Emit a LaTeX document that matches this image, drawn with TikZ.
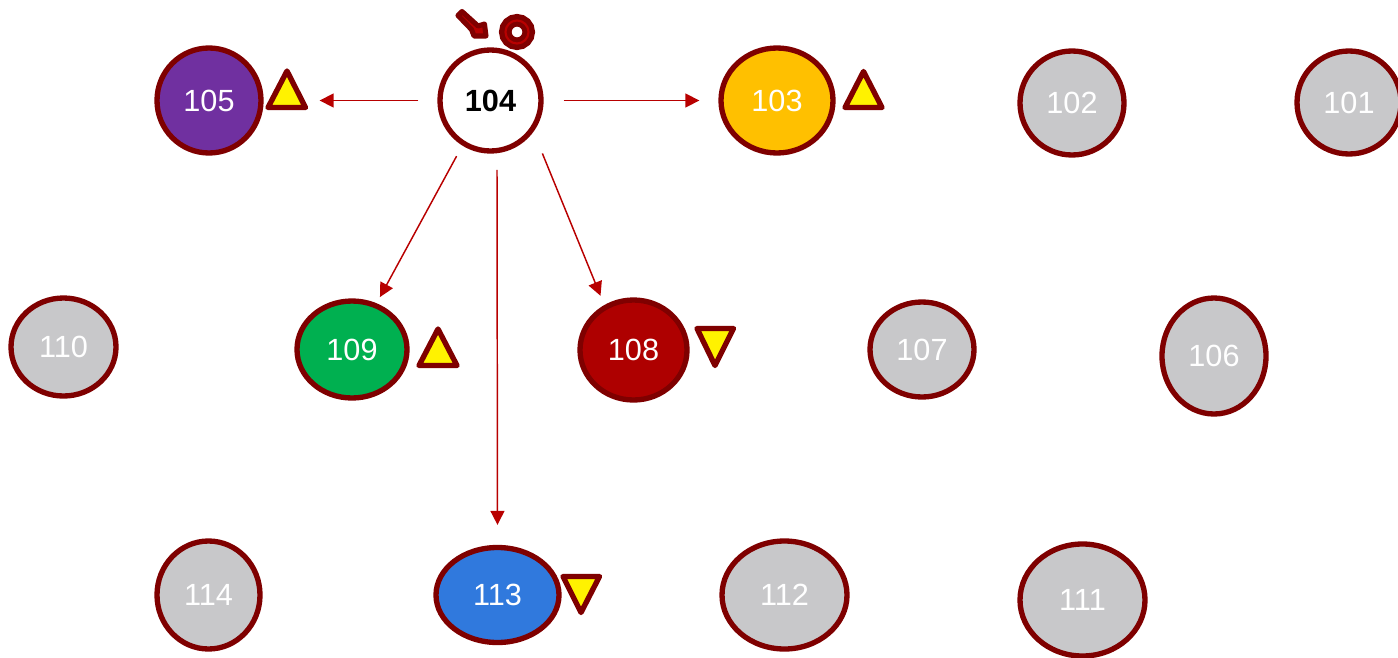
\documentclass[tikz,border=0pt]{standalone}
\usepackage{fontspec}
\setmainfont{Liberation Sans}
\usetikzlibrary{shapes.geometric,arrows.meta}
\definecolor{dk}{HTML}{7F0000}
\definecolor{arr}{HTML}{B80000}
\definecolor{gry}{HTML}{C8C8CA}
\definecolor{purp}{HTML}{7030A0}
\definecolor{amber}{HTML}{FFC000}
\definecolor{grn}{HTML}{00B050}
\definecolor{rd}{HTML}{AE0000}
\definecolor{blu}{HTML}{3079DD}
\newcommand{\lbl}[1]{\raisebox{-1.4pt}{#1}}
\tikzset{
  oval/.style n args={3}{ellipse,draw=dk,line width=4pt,fill=#3,text=white,inner sep=0pt,
    minimum width=(#1-4)*0.75pt,minimum height=(#2-4)*0.75pt,font=\fontsize{23pt}{26pt}\selectfont},
  link/.style={draw=arr,line width=1.1pt,-{Triangle[length=10.5pt,width=10.5pt]}},
  mark tri/.style={draw=dk,fill=yellow,line width=4pt,line join=round},
  icon/.style={draw=dk,fill=arr,line width=3.8pt,line join=round}
}
\begin{document}
\begin{tikzpicture}[x=0.75pt,y=-0.75pt]
\useasboundingbox (0,0) rectangle (1398,657);
\node[oval={108}{109}{purp}] (n105) at (209,100.5) {\lbl{105}};
\node[oval={105}{105}{white},text=black,font=\fontsize{23pt}{26pt}\selectfont\bfseries] (n104) at (490.5,100.5) {\lbl{104}};
\node[oval={116}{109}{amber}] (n103) at (777,100.5) {\lbl{103}};
\node[oval={108}{108}{gry}] (n102) at (1072,103) {\lbl{102}};
\node[oval={108}{107}{gry}] (n101) at (1349,102.5) {\lbl{101}};
\node[oval={109}{102}{gry}] (n110) at (63.5,347) {\lbl{110}};
\node[oval={114}{101}{grn}] (n109) at (352,349.5) {\lbl{109}};
\node[oval={111}{104}{rd}] (n108) at (633.5,350) {\lbl{108}};
\node[oval={108}{99}{gry}] (n107) at (922,349.5) {\lbl{107}};
\node[oval={108}{120}{gry}] (n106) at (1214,356) {\lbl{106}};
\node[oval={107}{112}{gry}] (n114) at (208.5,595) {\lbl{114}};
\node[oval={127}{99}{blu}] (n113) at (497.5,595) {\lbl{113}};
\node[oval={129}{112}{gry}] (n112) at (784.5,595) {\lbl{112}};
\node[oval={129}{116}{gry}] (n111) at (1082.5,600) {\lbl{111}};
% connectors
\draw[link,shorten <=14.25pt,shorten >=42pt] (n104.west) -- (n105.east);
\draw[link,shorten <=15pt,shorten >=14.25pt] (n104.east) -- (n103.west);
\draw[link,shorten <=9pt,shorten >=5.25pt] (n104.238.6) -- (n109.62.8);
\draw[link,shorten <=12.4pt,shorten >=15pt] (n104.277.7) -- (n113.north);
\draw[link,shorten <=17.6pt,shorten >=7.5pt] (n104.-36.7) -- (n108.123.7);
% markers
\draw[mark tri] (268,107.5) -- (287,71) -- (305.5,107.5) -- cycle;
\draw[mark tri] (845,107.5) -- (863.5,71.5) -- (882,107.5) -- cycle;
\draw[mark tri] (419,365.5) -- (438,329) -- (457,365.5) -- cycle;
\draw[mark tri] (697,328.5) -- (715,365.5) -- (733.5,328.5) -- cycle;
\draw[mark tri] (563,576.5) -- (581,612.5) -- (599.5,576.5) -- cycle;
% pointer and ring icon
\draw[icon] (458,15.5) -- (462,11.5) -- (478,26) -- (484.5,24) -- (486,36) -- (474,36) -- (471.5,29.5) -- cycle;
\draw[dk,line width=9.4pt] (517,32) circle[radius=11.75];
\draw[arr,line width=1.6pt] (517,32) circle[radius=11.5];
\end{tikzpicture}
\end{document}
